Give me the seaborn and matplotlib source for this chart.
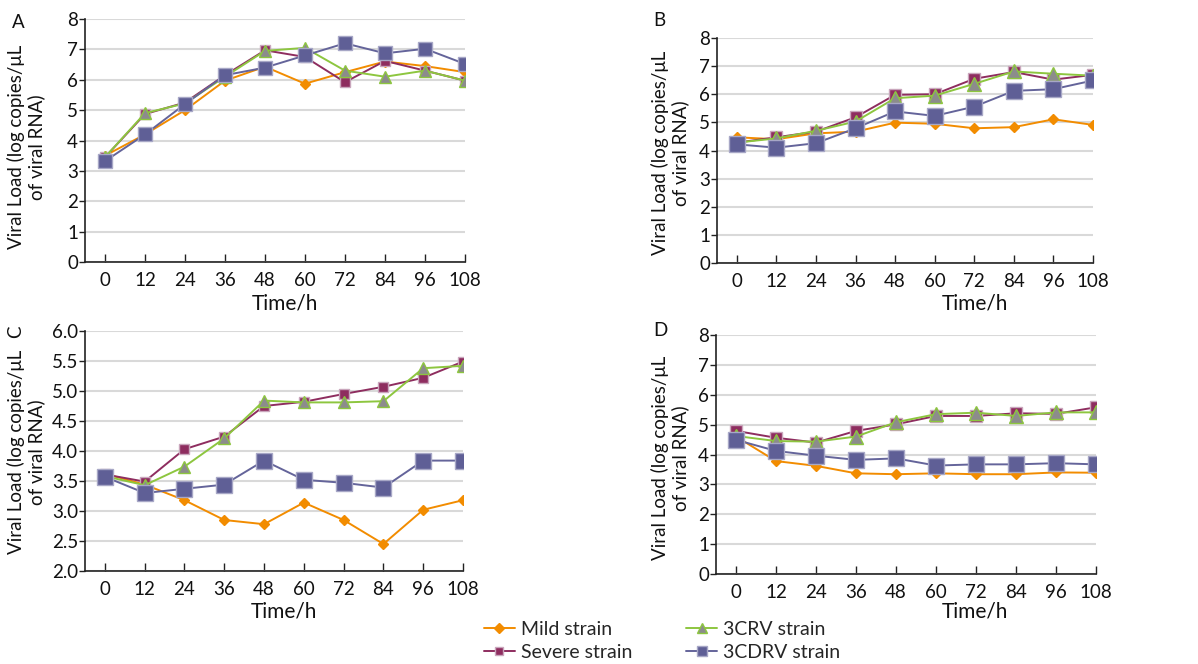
import matplotlib
matplotlib.use("Agg")
import matplotlib.pyplot as plt
import matplotlib.ticker as mticker
from matplotlib.lines import Line2D
import seaborn as sns
import pandas as pd

sns.set_theme(style="white")
plt.rcParams['font.family'] = ['Lato', 'DejaVu Sans']

time_h = [0, 12, 24, 36, 48, 60, 72, 84, 96, 108]
series_names = ["Mild strain", "Severe strain", "3CRV strain", "3CDRV strain"]

# Panel A
a_mild = [3.50, 4.20, 5.00, 5.97, 6.43, 5.87, 6.25, 6.60, 6.45, 6.25]
a_severe = [3.45, 4.87, 5.25, 6.15, 6.97, 6.75, 5.92, 6.62, 6.30, 5.97]
a_3crv = [3.45, 4.90, 5.22, 6.10, 6.95, 7.05, 6.30, 6.10, 6.30, 5.97]
a_3cdrv = [3.32, 4.20, 5.20, 6.15, 6.40, 6.80, 7.20, 6.87, 7.02, 6.52]
# Panel B
b_mild = [4.47, 4.40, 4.61, 4.67, 4.99, 4.95, 4.79, 4.83, 5.11, 4.91]
b_severe = [4.28, 4.47, 4.67, 5.18, 5.98, 6.00, 6.55, 6.79, 6.52, 6.69]
b_3crv = [4.28, 4.43, 4.70, 5.03, 5.86, 5.95, 6.37, 6.81, 6.73, 6.66]
b_3cdrv = [4.22, 4.10, 4.26, 4.79, 5.39, 5.23, 5.56, 6.12, 6.18, 6.49]
# Panel C
c_mild = [3.62, 3.44, 3.18, 2.85, 2.78, 3.14, 2.85, 2.45, 3.02, 3.18]
c_severe = [3.61, 3.49, 4.03, 4.24, 4.75, 4.82, 4.95, 5.07, 5.22, 5.49]
c_3crv = [3.58, 3.43, 3.74, 4.21, 4.84, 4.81, 4.81, 4.83, 5.38, 5.42]
c_3cdrv = [3.57, 3.30, 3.37, 3.44, 3.84, 3.52, 3.47, 3.39, 3.84, 3.84]
# Panel D
d_mild = [4.60, 3.78, 3.62, 3.37, 3.34, 3.37, 3.34, 3.34, 3.40, 3.39]
d_severe = [4.79, 4.56, 4.40, 4.79, 5.01, 5.29, 5.29, 5.38, 5.36, 5.58]
d_3crv = [4.62, 4.45, 4.43, 4.60, 5.08, 5.35, 5.40, 5.29, 5.41, 5.41]
d_3cdrv = [4.49, 4.12, 3.96, 3.82, 3.87, 3.63, 3.67, 3.67, 3.71, 3.67]

panels = {
    "A": [a_mild, a_severe, a_3crv, a_3cdrv],
    "B": [b_mild, b_severe, b_3crv, b_3cdrv],
    "C": [c_mild, c_severe, c_3crv, c_3cdrv],
    "D": [d_mild, d_severe, d_3crv, d_3cdrv],
}

W, H = 1198, 664
fig = plt.figure(figsize=(W / 100, H / 100), dpi=100)

def px_axes(left, right, top, bottom):
    return fig.add_axes([left / W, (H - bottom) / H, (right - left) / W, (bottom - top) / H])

styles = [
    dict(color="#F28C00", marker="D", mfc="#F28C00", mec="#F28C00"),
    dict(color="#8E2D5F", marker="s", mfc="#8E2D5F", mec="#C9A6BC"),
    dict(color="#8DC63F", marker="^", mfc="#8C8C8C", mec="#8DC63F"),
    dict(color="#64649A", marker="s", mfc="#5F5F96", mec="#A7A7C6"),
]

layout = {
    "A": dict(box=(85, 465, 19, 262), ylim=(0, 8), yt=[0, 1, 2, 3, 4, 5, 6, 7, 8], fmt="%d",
              sizes=[6, 7, 8, 10], ylab=(26, 147), letter=(18, 22, 0), tlab=(285, 304)),
    "B": dict(box=(717, 1093, 38, 263), ylim=(0, 8), yt=[0, 1, 2, 3, 4, 5, 6, 7, 8], fmt="%d",
              sizes=[7, 9, 10, 12], ylab=(670, 153), letter=(659, 21, 0), tlab=(975, 304)),
    "C": dict(box=(85, 463, 331, 571), ylim=(2, 6), yt=[2.0, 2.5, 3.0, 3.5, 4.0, 4.5, 5.0, 5.5, 6.0], fmt="%.1f",
              sizes=[6, 7.5, 9, 11], ylab=(26, 452), letter=(16, 332, 90), tlab=(284, 612)),
    "D": dict(box=(716, 1096, 335, 574), ylim=(0, 8), yt=[0, 1, 2, 3, 4, 5, 6, 7, 8], fmt="%d",
              sizes=[6.5, 8.5, 9.5, 11.5], ylab=(670, 458), letter=(660, 331, 0), tlab=(975, 612)),
}

for key, data in panels.items():
    L = layout[key]
    ax = px_axes(*L["box"])
    for i, (vals, st) in enumerate(zip(data, styles)):
        df = pd.DataFrame({"t": time_h, "v": vals})
        sns.lineplot(data=df, x="t", y="v", ax=ax, color=st["color"], marker=st["marker"],
                     markersize=L["sizes"][i] * (0.8 if st["marker"] == "D" else 1.0),
                     markerfacecolor=st["mfc"], markeredgecolor=st["mec"], markeredgewidth=1.0,
                     linewidth=1.4, zorder=3 + i)
    ax.set_xlim(-6, 108)
    ax.set_ylim(*L["ylim"])
    ax.set_xticks(time_h)
    ax.set_yticks(L["yt"])
    ax.yaxis.set_major_formatter(mticker.FormatStrFormatter(L["fmt"]))
    ax.grid(axis="y", color="#D9D9D9", linewidth=1.5)
    ax.set_axisbelow(True)
    for s in ["top", "right"]:
        ax.spines[s].set_visible(False)
    for s in ["left", "bottom"]:
        ax.spines[s].set_color("#222222")
        ax.spines[s].set_linewidth(1.2)
    ax.tick_params(axis="x", direction="in", length=6, width=1.0, color="#222222",
                   labelsize=13.5, pad=7, labelcolor="#111111", bottom=True)
    ax.tick_params(axis="y", direction="out", length=4, width=1.0, color="#222222",
                   labelsize=13.5, pad=1, labelcolor="#111111", left=True)
    ax.set_xlabel("")
    ax.set_ylabel("")
    x, y = L["ylab"]
    fig.text(x / W, (H - y) / H, "Viral Load (log copies/μL\nof viral RNA)", rotation=90,
             ha="center", va="center", multialignment="center", fontsize=13.5,
             color="#111111", linespacing=1.2)
    lx, ly, rot = L["letter"]
    fig.text(lx / W, (H - ly) / H, key, ha="center", va="center", fontsize=13.5,
             rotation=rot, color="#111111")
    tx, ty = L["tlab"]
    fig.text(tx / W, (H - ty) / H, "Time/h", ha="center", va="center", fontsize=15,
             color="#111111")

handles = []
leg_sizes = [5, 6, 7, 7]
for name, st, ms in zip(series_names, styles, leg_sizes):
    handles.append(Line2D([0], [0], color=st["color"], marker=st["marker"], markersize=ms,
                          markerfacecolor=st["mfc"], markeredgecolor=st["mec"], linewidth=1.4))
fig.legend(handles=handles, labels=series_names, ncol=2, loc="center",
           bbox_to_anchor=(662 / W, (H - 641) / H), frameon=False, fontsize=14,
           handlelength=1.6, handletextpad=0.3, columnspacing=2.8, labelspacing=0.3,
           borderaxespad=0)

fig.savefig("out.png", dpi=100)
